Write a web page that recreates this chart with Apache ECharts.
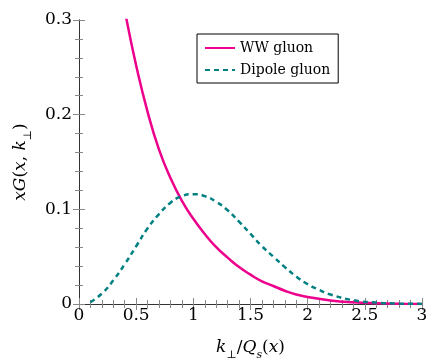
<!DOCTYPE html>
<html>
<head>
<meta charset="utf-8">
<script src="https://cdn.jsdelivr.net/npm/echarts@6/dist/echarts.min.js"></script>
<style>html,body{margin:0;padding:0;background:#fff;}#c{width:436px;height:364px;}</style>
</head>
<body>
<div id="c"></div>
<script>
const xTicks = [0, 0.5, 1, 1.5, 2, 2.5, 3];
const yTicks = [0, 0.1, 0.2, 0.3];
const seriesNames = ['WW gluon', 'Dipole gluon'];
const wwX = [0.35, 0.42, 0.5, 0.6, 0.7, 0.8, 0.9, 1.0, 1.1, 1.2, 1.3, 1.4, 1.5, 1.6, 1.7, 1.8, 1.9, 2.0, 2.2, 2.4, 2.6, 2.8, 3.0];
const wwY = [0.345, 0.298, 0.252, 0.203, 0.163, 0.133, 0.109, 0.090, 0.074, 0.060, 0.049, 0.039, 0.031, 0.024, 0.019, 0.014, 0.010, 0.0075, 0.0038, 0.0018, 0.0008, 0.0003, 0.0001];
const dipX = [0.1, 0.2, 0.3, 0.4, 0.5, 0.6, 0.7, 0.8, 0.9, 1.0, 1.1, 1.2, 1.3, 1.4, 1.5, 1.6, 1.7, 1.8, 1.9, 2.0, 2.1, 2.2, 2.4, 2.6, 2.8, 3.0];
const dipY = [0.002, 0.011, 0.025, 0.042, 0.061, 0.080, 0.095, 0.107, 0.114, 0.116, 0.114, 0.108, 0.099, 0.087, 0.074, 0.061, 0.050, 0.039, 0.029, 0.021, 0.015, 0.010, 0.004, 0.0015, 0.0005, 0.0001];

const FONT = 'DejaVu Serif';
const axisColor = '#333';
const tickColor = '#888';
function fmt(v) { return String(Math.round(v * 10) / 10); }

const baseX = {
  type: 'value', min: xTicks[0], max: xTicks[xTicks.length - 1], interval: 0.5,
  axisLine: { show: true, lineStyle: { color: axisColor, width: 1 } },
  axisTick: { show: true, inside: true, length: 6, lineStyle: { color: tickColor } },
  minorTick: { show: true, splitNumber: 5, length: 4, lineStyle: { color: tickColor } },
  splitLine: { show: false }, minorSplitLine: { show: false }
};
const baseY = {
  type: 'value', min: yTicks[0], max: yTicks[yTicks.length - 1], interval: 0.1,
  axisLine: { show: true, lineStyle: { color: axisColor, width: 1 } },
  axisTick: { show: true, inside: true, length: 6, lineStyle: { color: tickColor } },
  minorTick: { show: true, splitNumber: 5, length: 4, lineStyle: { color: tickColor } },
  splitLine: { show: false }, minorSplitLine: { show: false }
};
const richName = {
  i: { fontFamily: FONT, fontStyle: 'italic', fontSize: 17, color: '#000', verticalAlign: 'bottom', lineHeight: 20 },
  n: { fontFamily: FONT, fontSize: 17, color: '#000', verticalAlign: 'bottom', lineHeight: 20 },
  s: { fontFamily: FONT, fontStyle: 'italic', fontSize: 11, color: '#000', verticalAlign: 'bottom', lineHeight: 20, padding: [0, 0, -5, 0] }
};

const chart = echarts.init(document.getElementById('c'), null, { renderer: 'canvas' });
chart.setOption({
  animation: false,
  backgroundColor: '#fff',
  textStyle: { fontFamily: FONT },
  grid: { left: 79, right: 14, top: 20, bottom: 60, containLabel: false, outerBoundsMode: 'none' },
  legend: {
    data: seriesNames,
    orient: 'vertical', left: 197, top: 34,
    padding: [7, 8, 6, 7], itemGap: 8, itemWidth: 30, itemHeight: 14,
    borderColor: '#000', borderWidth: 1, backgroundColor: '#fff',
    itemStyle: { opacity: 0 },
    textStyle: { fontFamily: FONT, fontSize: 14, color: '#000' }
  },
  xAxis: [
    Object.assign({}, baseX, {
      position: 'bottom',
      axisLabel: { show: true, margin: 3, fontFamily: FONT, fontSize: 17, color: '#000', formatter: fmt },
      name: '{i|k}{s|⊥}{n|/}{i|Q}{s|s}{n|(}{i|x}{n|)}',
      nameLocation: 'middle', nameGap: 32,
      nameTextStyle: { fontFamily: FONT, fontSize: 17, color: '#000', rich: richName }
    }),
    Object.assign({}, baseX, { position: 'top', axisLabel: { show: false } })
  ],
  yAxis: [
    Object.assign({}, baseY, {
      position: 'left',
      axisLabel: { show: true, margin: 7, fontFamily: FONT, fontSize: 17, color: '#000', formatter: fmt },
      name: '{i|xG}{n|(}{i|x}{n|, }{i|k}{s|⊥}{n|)}',
      nameLocation: 'middle', nameGap: 50, nameRotate: 90,
      nameTextStyle: { fontFamily: FONT, fontSize: 17, color: '#000', rich: richName }
    }),
    Object.assign({}, baseY, { position: 'right', axisLabel: { show: false } })
  ],
  series: [
    {
      name: seriesNames[0], type: 'line', xAxisIndex: 0, yAxisIndex: 0,
      data: wwX.map((x, i) => [x, wwY[i]]),
      smooth: 0.5, symbol: 'none', clip: true,
      lineStyle: { color: '#EC008C', width: 2.5 },
      itemStyle: { color: '#EC008C' }, z: 3
    },
    {
      name: seriesNames[1], type: 'line', xAxisIndex: 0, yAxisIndex: 0,
      data: dipX.map((x, i) => [x, dipY[i]]),
      smooth: 0.5, symbol: 'none', clip: true,
      lineStyle: { color: '#008080', width: 2.5, type: [5, 4] },
      itemStyle: { color: '#008080' }, z: 4
    }
  ]
});
</script>
</body>
</html>
